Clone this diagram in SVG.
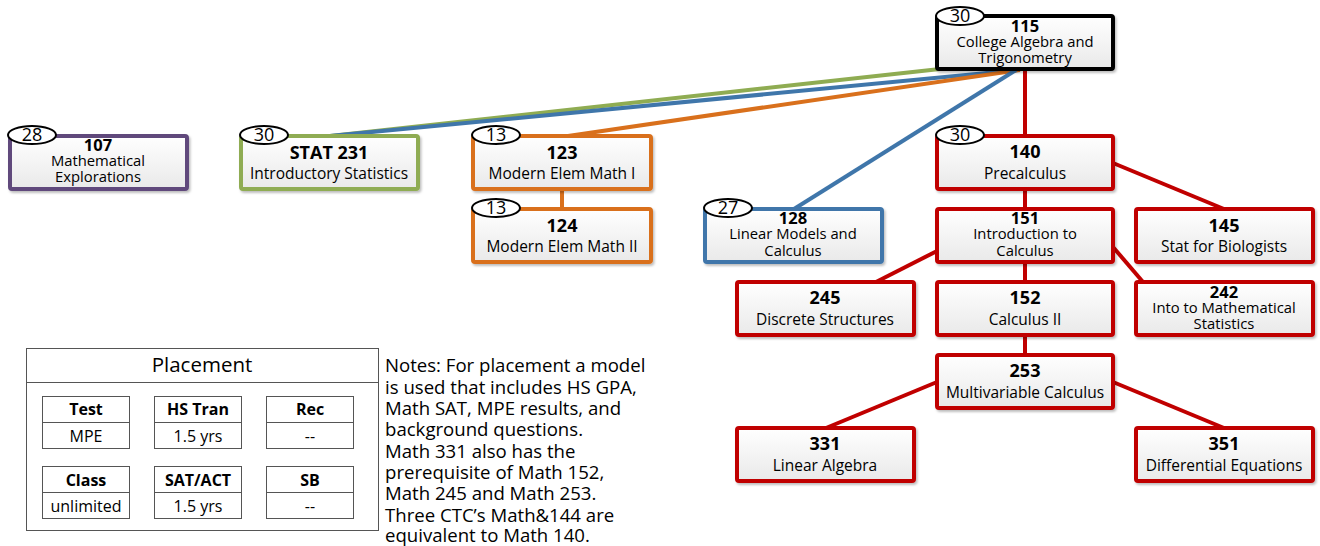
<svg xmlns="http://www.w3.org/2000/svg" width="1320" height="546" viewBox="0 0 1320 546">
<defs>
<linearGradient id="bg" x1="0" y1="0" x2="0" y2="1">
<stop offset="0" stop-color="#ffffff"/>
<stop offset="1" stop-color="#e9e9e9"/>
</linearGradient>
<filter id="sh" x="-10%" y="-10%" width="130%" height="140%">
<feDropShadow dx="1.5" dy="2" stdDeviation="1.2" flood-color="#000" flood-opacity="0.25"/>
</filter>
</defs>
<style>
text{font-family:"Open Sans","Liberation Sans",sans-serif;fill:#000}
.box{fill:url(#bg);stroke-width:4;filter:url(#sh)}
.num{font-size:18px;font-weight:bold;text-anchor:middle}
.lab{font-size:15.5px;text-anchor:middle}
.num3{font-size:16.5px;font-weight:bold;text-anchor:middle}
.lab3{font-size:14.8px;text-anchor:middle}
.ov{fill:#fff;stroke:#000;stroke-width:2}
.ovt{font-size:18px;text-anchor:middle}
.red{stroke:#c00000}
.k{stroke:#000}
.pur{stroke:#604a7b}
.grn{stroke:#8fac52}
.org{stroke:#d9701c}
.blu{stroke:#3f76aa}
#connectors line{stroke-width:4;fill:none}
.pl{fill:#fff;stroke:#555;stroke-width:1}
.ph{font-size:16px;font-weight:bold;text-anchor:middle}
.pv{font-size:16px;text-anchor:middle}
.note{font-size:18.6px}
</style>

<g id="connectors">
<line class="grn" x1="940" y1="69" x2="330" y2="136"/>
<line class="blu" x1="1018" y1="70" x2="330" y2="136"/>
<line class="org" x1="1020" y1="70" x2="568" y2="136"/>
<line class="blu" x1="1016" y1="70" x2="794" y2="209"/>
<line class="red" x1="1025" y1="69" x2="1025" y2="136"/>
<line class="org" x1="562" y1="189" x2="562" y2="209"/>
<line class="red" x1="1025" y1="189" x2="1025" y2="209"/>
<line class="red" x1="1113" y1="163" x2="1224" y2="209"/>
<line class="red" x1="937" y1="251" x2="876" y2="282"/>
<line class="red" x1="1113" y1="247" x2="1143" y2="282"/>
<line class="red" x1="1025" y1="262" x2="1025" y2="282"/>
<line class="red" x1="1025" y1="335" x2="1025" y2="355"/>
<line class="red" x1="937" y1="382" x2="826" y2="428"/>
<line class="red" x1="1113" y1="382" x2="1224" y2="428"/>
</g>

<g id="n115">
<rect class="box k" x="937" y="16" width="176" height="53" rx="2"/>
<text class="num3" x="1025" y="32">115</text>
<text class="lab3" x="1025" y="47">College Algebra and</text>
<text class="lab3" x="1025" y="62.5">Trigonometry</text>
<ellipse class="ov" cx="960" cy="16" rx="24" ry="9"/>
<text class="ovt" x="960" y="22">30</text>
</g>

<g id="n107">
<rect class="box pur" x="10" y="136" width="177" height="53" rx="2"/>
<text class="num3" x="98" y="151">107</text>
<text class="lab3" x="98" y="166">Mathematical</text>
<text class="lab3" x="98" y="181.5">Explorations</text>
<ellipse class="ov" cx="32" cy="135" rx="24" ry="9"/>
<text class="ovt" x="32" y="141">28</text>
</g>

<g id="n231">
<rect class="box grn" x="241" y="136" width="177" height="53" rx="2"/>
<text class="num" x="329" y="159">STAT 231</text>
<text class="lab" x="329" y="179">Introductory Statistics</text>
<ellipse class="ov" cx="264" cy="135" rx="24" ry="9"/>
<text class="ovt" x="264" y="141">30</text>
</g>

<g id="n123">
<rect class="box org" x="473" y="136" width="178" height="53" rx="2"/>
<text class="num" x="562" y="159">123</text>
<text class="lab" x="562" y="179">Modern Elem Math I</text>
<ellipse class="ov" cx="496" cy="135" rx="24" ry="9"/>
<text class="ovt" x="496" y="141">13</text>
</g>

<g id="n124">
<rect class="box org" x="473" y="209" width="178" height="53" rx="2"/>
<text class="num" x="562" y="232">124</text>
<text class="lab" x="562" y="252">Modern Elem Math II</text>
<ellipse class="ov" cx="496" cy="208" rx="24" ry="9"/>
<text class="ovt" x="496" y="214">13</text>
</g>

<g id="n128">
<rect class="box blu" x="705" y="209" width="177" height="53" rx="2"/>
<text class="num3" x="793" y="224">128</text>
<text class="lab3" x="793" y="239">Linear Models and</text>
<text class="lab3" x="793" y="255.5">Calculus</text>
<ellipse class="ov" cx="728" cy="208" rx="24" ry="9"/>
<text class="ovt" x="728" y="214">27</text>
</g>

<g id="n140">
<rect class="box red" x="937" y="136" width="176" height="53" rx="2"/>
<text class="num" x="1025" y="158">140</text>
<text class="lab" x="1025" y="179">Precalculus</text>
<ellipse class="ov" cx="960" cy="135" rx="24" ry="9"/>
<text class="ovt" x="960" y="141">30</text>
</g>

<g id="n151">
<rect class="box red" x="937" y="209" width="176" height="53" rx="2"/>
<text class="num3" x="1025" y="224">151</text>
<text class="lab3" x="1025" y="239">Introduction to</text>
<text class="lab3" x="1025" y="255.5">Calculus</text>
</g>

<g id="n145">
<rect class="box red" x="1136" y="209" width="177" height="53" rx="2"/>
<text class="num" x="1224" y="232">145</text>
<text class="lab" x="1224" y="252">Stat for Biologists</text>
</g>

<g id="n245">
<rect class="box red" x="737" y="282" width="177" height="53" rx="2"/>
<text class="num" x="825" y="304">245</text>
<text class="lab" x="825" y="325">Discrete Structures</text>
</g>

<g id="n152">
<rect class="box red" x="937" y="282" width="176" height="53" rx="2"/>
<text class="num" x="1025" y="304">152</text>
<text class="lab" x="1025" y="325">Calculus II</text>
</g>

<g id="n242">
<rect class="box red" x="1136" y="282" width="177" height="53" rx="2"/>
<text class="num3" x="1224" y="298">242</text>
<text class="lab3" x="1224" y="313">Into to Mathematical</text>
<text class="lab3" x="1224" y="328.5">Statistics</text>
</g>

<g id="n253">
<rect class="box red" x="937" y="355" width="176" height="53" rx="2"/>
<text class="num" x="1025" y="377">253</text>
<text class="lab" x="1025" y="398">Multivariable Calculus</text>
</g>

<g id="n331">
<rect class="box red" x="737" y="428" width="177" height="53" rx="2"/>
<text class="num" x="825" y="450">331</text>
<text class="lab" x="825" y="471">Linear Algebra</text>
</g>

<g id="n351">
<rect class="box red" x="1136" y="428" width="177" height="53" rx="2"/>
<text class="num" x="1224" y="450">351</text>
<text class="lab" x="1224" y="471">Differential Equations</text>
</g>

<g id="placement">
<rect class="pl" x="26.5" y="348.5" width="352" height="182"/>
<line x1="26.5" y1="382.5" x2="378.5" y2="382.5" stroke="#555" stroke-width="1"/>
<text x="202" y="372" font-size="20.5" text-anchor="middle">Placement</text>
<rect class="pl" x="42.5" y="396.5" width="87" height="52"/>
<line x1="42.5" y1="422.5" x2="129.5" y2="422.5" stroke="#555"/>
<text class="ph" x="86" y="415">Test</text>
<text class="pv" x="86" y="442">MPE</text>
<rect class="pl" x="154.5" y="396.5" width="87" height="52"/>
<line x1="154.5" y1="422.5" x2="241.5" y2="422.5" stroke="#555"/>
<text class="ph" x="198" y="415">HS Tran</text>
<text class="pv" x="198" y="442">1.5 yrs</text>
<rect class="pl" x="266.5" y="396.5" width="87" height="52"/>
<line x1="266.5" y1="422.5" x2="353.5" y2="422.5" stroke="#555"/>
<text class="ph" x="310" y="415">Rec</text>
<text class="pv" x="310" y="442">--</text>
<rect class="pl" x="42.5" y="466.5" width="87" height="52"/>
<line x1="42.5" y1="492.5" x2="129.5" y2="492.5" stroke="#555"/>
<text class="ph" x="86" y="486">Class</text>
<text class="pv" x="86" y="512">unlimited</text>
<rect class="pl" x="154.5" y="466.5" width="87" height="52"/>
<line x1="154.5" y1="492.5" x2="241.5" y2="492.5" stroke="#555"/>
<text class="ph" x="198" y="486">SAT/ACT</text>
<text class="pv" x="198" y="512">1.5 yrs</text>
<rect class="pl" x="266.5" y="466.5" width="87" height="52"/>
<line x1="266.5" y1="492.5" x2="353.5" y2="492.5" stroke="#555"/>
<text class="ph" x="310" y="486">SB</text>
<text class="pv" x="310" y="512">--</text>
</g>

<g id="notes">
<text class="note" x="385" y="372">Notes: For placement a model</text>
<text class="note" x="385" y="394">is used that includes HS GPA,</text>
<text class="note" x="385" y="415">Math SAT, MPE results, and</text>
<text class="note" x="385" y="436">background questions.</text>
<text class="note" x="385" y="458">Math 331 also has the</text>
<text class="note" x="385" y="479">prerequisite of Math 152,</text>
<text class="note" x="385" y="500">Math 245 and Math 253.</text>
<text class="note" x="385" y="522">Three CTC’s Math&amp;144 are</text>
<text class="note" x="385" y="542">equivalent to Math 140.</text>
</g>
</svg>
